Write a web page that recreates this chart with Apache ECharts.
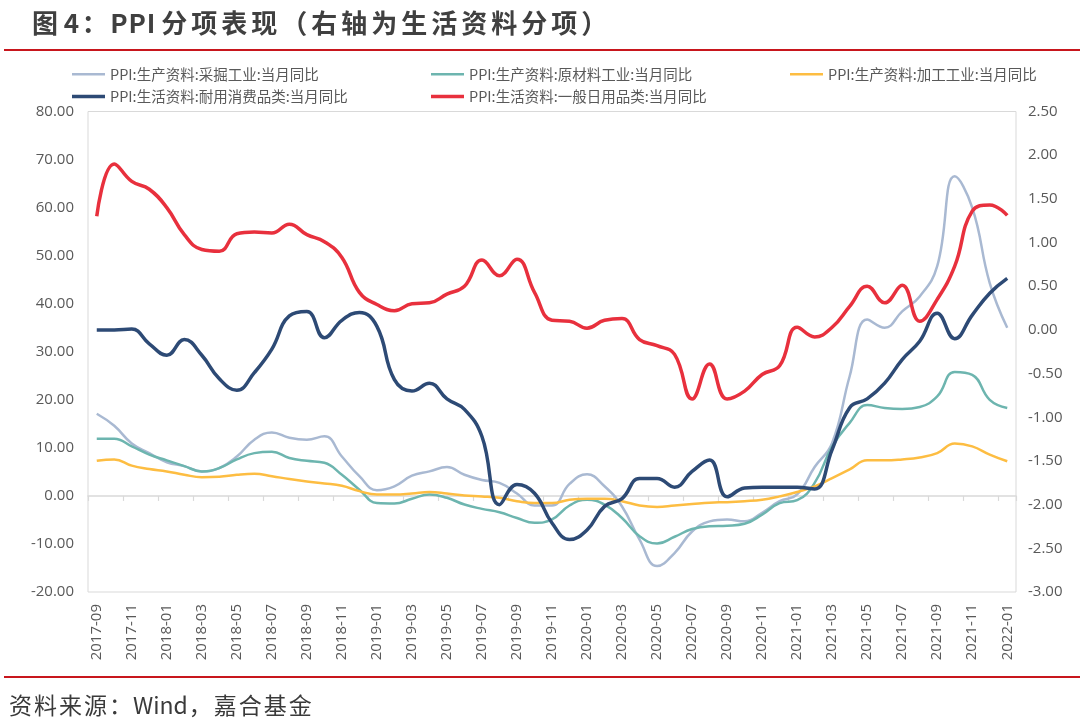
<!DOCTYPE html>
<html>
<head>
<meta charset="utf-8">
<script src="https://cdn.jsdelivr.net/npm/echarts@6/dist/echarts.min.js"></script>
<style>
html,body{margin:0;padding:0;background:#ffffff;}
#chart{width:1080px;height:719px;}
</style>
</head>
<body>
<div id="chart"></div>
<script>
// ---------- data ----------
const months = [
  '2017-09','2017-10','2017-11','2017-12',
  '2018-01','2018-02','2018-03','2018-04','2018-05','2018-06','2018-07','2018-08','2018-09','2018-10','2018-11','2018-12',
  '2019-01','2019-02','2019-03','2019-04','2019-05','2019-06','2019-07','2019-08','2019-09','2019-10','2019-11','2019-12',
  '2020-01','2020-02','2020-03','2020-04','2020-05','2020-06','2020-07','2020-08','2020-09','2020-10','2020-11','2020-12',
  '2021-01','2021-02','2021-03','2021-04','2021-05','2021-06','2021-07','2021-08','2021-09','2021-10','2021-11','2021-12',
  '2022-01'
];

// left axis series
const mining = [
  17.1, 14.6, 10.9, 8.9,
  7.0, 6.2, 5.1, 5.8, 8.2, 11.7, 13.2, 12.1, 11.7, 12.4, 8.2, 4.1,
  1.2, 2.0, 4.2, 5.1, 6.0, 4.4, 3.3, 2.7, 0.5, -2.0, -2.0, 2.5,
  4.5, 2.0, -2.2, -9.1, -14.6, -11.9, -7.4, -5.3, -4.9, -5.3, -3.5, -1.1,
  0.3, 6.0, 11.0, 24.9, 36.7, 35.0, 38.4, 41.5, 47.8, 66.5, 60.0, 44.3,
  35.0
];
const rawMaterial = [
  11.9, 11.9, 10.3, 8.6,
  7.4, 6.2, 5.1, 5.8, 7.6, 8.9, 9.2, 7.9, 7.3, 6.9, 4.4, 1.3,
  -1.5, -1.6, -0.6, 0.3, -0.4, -1.8, -2.7, -3.4, -4.6, -5.6, -4.9, -2.0,
  -0.8, -1.8, -4.6, -8.4, -9.9, -8.5, -6.9, -6.3, -6.2, -5.8, -3.9, -1.5,
  -0.9, 2.7, 10.3, 15.2, 18.9, 18.3, 18.1, 18.5, 20.7, 25.8, 25.2, 20.0,
  18.3
];
const processing = [
  7.3, 7.6, 6.3, 5.6,
  5.1, 4.4, 3.9, 4.0, 4.4, 4.6, 4.1, 3.5, 3.0, 2.6, 2.1, 1.0,
  0.3, 0.3, 0.5, 0.8, 0.5, 0.1, -0.1, -0.4, -1.1, -1.5, -1.5, -0.8,
  -0.6, -0.6, -1.1, -2.0, -2.3, -2.0, -1.7, -1.4, -1.3, -1.1, -0.8, -0.1,
  0.8, 2.0, 3.7, 5.5, 7.4, 7.4, 7.6, 8.0, 8.9, 10.9, 10.3, 8.6,
  7.2
];
// right axis series
const durable = [
  0.00, 0.00, 0.01, -0.16,
  -0.29, -0.11, -0.29, -0.56, -0.69, -0.49, -0.22, 0.16, 0.21, -0.09, 0.11, 0.20,
  0.04, -0.57, -0.70, -0.61, -0.79, -0.91, -1.22, -2.00, -1.77, -1.87, -2.21, -2.40,
  -2.29, -2.02, -1.93, -1.70, -1.70, -1.80, -1.62, -1.49, -1.91, -1.81, -1.80, -1.80,
  -1.80, -1.82, -1.37, -0.89, -0.79, -0.61, -0.34, -0.13, 0.19, -0.10, 0.17, 0.42,
  0.59
];
const dailyUse = [
  1.30, 1.90, 1.70, 1.61,
  1.40, 1.09, 0.92, 0.90, 1.10, 1.12, 1.11, 1.21, 1.09, 1.01, 0.83, 0.43,
  0.29, 0.22, 0.30, 0.31, 0.41, 0.50, 0.80, 0.62, 0.81, 0.43, 0.11, 0.10,
  0.02, 0.11, 0.13, -0.11, -0.18, -0.28, -0.79, -0.39, -0.79, -0.70, -0.51, -0.41,
  0.03, -0.08, 0.03, 0.27, 0.50, 0.31, 0.51, 0.10, 0.35, 0.73, 1.36, 1.43,
  1.31
];

const seriesNames = [
  'PPI:生产资料:采掘工业:当月同比',
  'PPI:生产资料:原材料工业:当月同比',
  'PPI:生产资料:加工工业:当月同比',
  'PPI:生活资料:耐用消费品类:当月同比',
  'PPI:生活资料:一般日用品类:当月同比'
];
const leftTickMin = -20, leftTickMax = 80, leftTickStep = 10;
const rightTickMin = -3, rightTickMax = 2.5, rightTickStep = 0.5;

const titleText = '图 4：PPI 分项表现（右轴为生活资料分项）';
const sourceText = '资料来源：Wind，嘉合基金';

// ---------- helpers ----------
function spacedRich(str, asciiStyle) {
  return str.split('').map(function (ch) {
    if (ch === ' ') return '{s| }';
    if (ch.charCodeAt(0) < 128) return '{' + asciiStyle + '|' + ch + '}';
    return '{c|' + ch + '}';
  }).join('');
}

const cjkFont = '"Noto Sans CJK SC", "Noto Sans", sans-serif';
const numFont = '"Open Sans", "Noto Sans", sans-serif';
const labelColor = '#595959';
const borderGray = '#D9D9D9';

const colors = ['#A9B9D2', '#6DB5AF', '#FDBD42', '#2D4A75', '#E8303D'];
const widths = [2.5, 2.5, 2.5, 3.5, 3.5];
const datasets = [mining, rawMaterial, processing, durable, dailyUse];
const yIdx = [0, 0, 0, 1, 1];

const chart = echarts.init(document.getElementById('chart'), null, {renderer: 'canvas'});

const legendText = {fontSize: 14.5, color: labelColor, fontFamily: cjkFont, lineHeight: 14};
function lineIcon(i) {
  return 'path://M0,0H33V' + widths[i] + 'H0Z';
}
function mkLegend(left, idxs) {
  return {
    orient: 'vertical', left: left, top: 62,
    itemWidth: 33, itemHeight: 14, itemGap: 7.7,
    symbolKeepAspect: true,
    textStyle: legendText, selectedMode: false,
    data: idxs.map(function (i) { return {name: seriesNames[i], icon: lineIcon(i)}; })
  };
}

const option = {
  animation: false,
  backgroundColor: '#ffffff',
  legend: [
    mkLegend(67, [0, 3]),
    mkLegend(426, [1, 4]),
    mkLegend(785, [2])
  ],
  grid: {
    left: 88, right: 64, top: 111.5, bottom: 127,
    show: true, borderColor: borderGray, borderWidth: 1, backgroundColor: 'transparent'
  },
  xAxis: [
    {
      type: 'category', data: months, position: 'bottom', boundaryGap: true,
      axisLine: {show: false}, axisTick: {show: false}, splitLine: {show: false},
      axisLabel: {
        interval: 1, rotate: 90, margin: 12,
        fontSize: 15, color: labelColor, fontFamily: numFont
      }
    },
    {
      type: 'category', data: months, position: 'bottom', boundaryGap: true,
      axisLine: {show: true, onZero: true, onZeroAxisIndex: 0, lineStyle: {color: borderGray, width: 1.5}},
      axisTick: {show: true, interval: 1, length: 5, lineStyle: {color: borderGray, width: 1.2}},
      axisLabel: {show: false}, splitLine: {show: false}
    }
  ],
  yAxis: [
    {
      type: 'value', min: leftTickMin, max: leftTickMax, interval: leftTickStep,
      axisLine: {show: false}, axisTick: {show: false}, splitLine: {show: false},
      axisLabel: {
        margin: 14, fontSize: 15, color: labelColor, fontFamily: numFont,
        formatter: function (v) { return v.toFixed(2); }
      }
    },
    {
      type: 'value', min: rightTickMin, max: rightTickMax, interval: rightTickStep,
      position: 'right',
      axisLine: {show: false}, axisTick: {show: false}, splitLine: {show: false},
      axisLabel: {
        margin: 12, fontSize: 15, color: labelColor, fontFamily: numFont,
        formatter: function (v) { return v.toFixed(2); }
      }
    }
  ],
  series: seriesNames.map(function (name, i) {
    return {
      name: name, type: 'line', xAxisIndex: 0, yAxisIndex: yIdx[i],
      data: datasets[i], symbol: 'none', smooth: 0.45,
      lineStyle: {color: colors[i], width: widths[i]},
      itemStyle: {color: colors[i]},
      z: 2 + i
    };
  }),
  graphic: [
    {
      type: 'text', x: 30, y: 23,
      style: {
        text: spacedRich(titleText, 'a'),
        verticalAlign: 'middle', align: 'left',
        rich: {
          c: {fontSize: 26, fontWeight: 'bold', fontFamily: cjkFont, fill: '#404040', padding: [0, 2, 0, 2]},
          a: {fontSize: 26, fontWeight: 'bold', fontFamily: cjkFont, fill: '#404040', padding: [0, 0.5, 0, 0.5]},
          s: {fontSize: 12, fill: '#404040'}
        }
      }
    },
    {
      type: 'rect', shape: {x: 4, y: 49, width: 1076, height: 2},
      style: {fill: '#C8161D'}
    },
    {
      type: 'rect', shape: {x: 4, y: 676, width: 1076, height: 2},
      style: {fill: '#C8161D'}
    },
    {
      type: 'text', x: 8, y: 705,
      style: {
        text: spacedRich(sourceText, 'a'),
        verticalAlign: 'middle', align: 'left',
        rich: {
          c: {fontSize: 23, fontFamily: cjkFont, fill: '#3A3A3A', padding: [0, 1, 0, 1]},
          a: {fontSize: 23, fontFamily: cjkFont, fill: '#3A3A3A'},
          s: {fontSize: 4, fill: '#3A3A3A'}
        }
      }
    }
  ]
};

chart.setOption(option);
</script>
</body>
</html>
